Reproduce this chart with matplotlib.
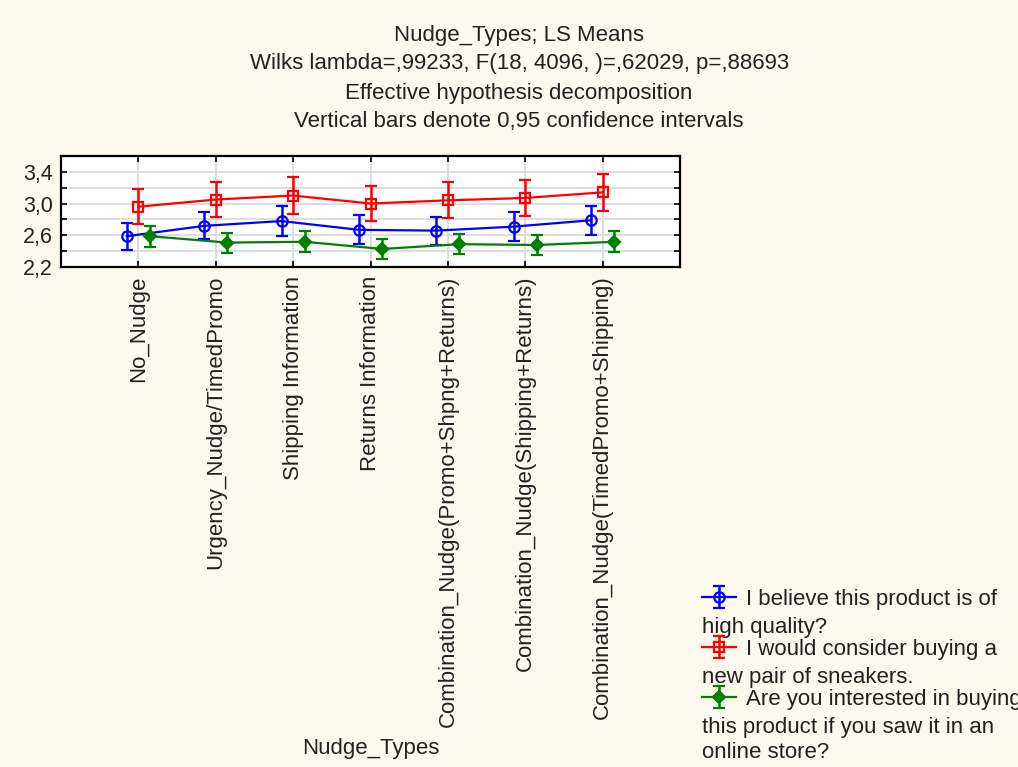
'''LS means per nudge type with 0.95 confidence intervals.'''

import matplotlib
matplotlib.use("Agg")
import matplotlib.pyplot as plt
import numpy as np

plt.rcParams['font.family'] = ['Liberation Sans', 'DejaVu Sans']

# Categories on the x axis
categories = [
    "No_Nudge",
    "Urgency_Nudge/TimedPromo",
    "Shipping Information",
    "Returns Information",
    "Combination_Nudge(Promo+Shpng+Returns)",
    "Combination_Nudge(Shipping+Returns)",
    "Combination_Nudge(TimedPromo+Shipping)",
]

# LS means and half-width of the 0.95 confidence intervals
quality_mean = [2.59, 2.72, 2.78, 2.67, 2.66, 2.71, 2.79]
quality_ci = [0.17, 0.17, 0.185, 0.18, 0.175, 0.18, 0.18]

sneakers_mean = [2.96, 3.05, 3.10, 3.00, 3.04, 3.07, 3.14]
sneakers_ci = [0.22, 0.225, 0.23, 0.225, 0.225, 0.23, 0.23]

store_mean = [2.59, 2.51, 2.52, 2.43, 2.49, 2.48, 2.52]
store_ci = [0.13, 0.125, 0.13, 0.13, 0.127, 0.128, 0.13]

y_ticks = [2.2, 2.4, 2.6, 2.8, 3.0, 3.2, 3.4, 3.6]

title_lines = [
    "Nudge_Types; LS Means",
    "Wilks lambda=,99233, F(18, 4096, )=,62029, p=,88693",
    "Effective hypothesis decomposition",
    "Vertical bars denote 0,95 confidence intervals",
]

legend_lines = [
    ("I believe this product is of", ["high quality?"]),
    ("I would consider buying a", ["new pair of sneakers."]),
    ("Are you interested in buying", ["this product if you saw it in an", "online store?"]),
]

BG = "#fdf9ee"
TXT = "#222222"
x = np.arange(len(categories))

fig = plt.figure(figsize=(10.18, 7.67), dpi=100, facecolor=BG)
ax = fig.add_axes([0.0599, 0.6515, 0.6081, 0.1455])
ax.set_facecolor("white")

series = [
    (quality_mean, quality_ci, -0.15, "blue", "o", "none"),
    (sneakers_mean, sneakers_ci, 0.0, "red", "s", "none"),
    (store_mean, store_ci, 0.15, "green", "D", "green"),
]

handles = []
for mean, ci, shift, color, marker, face in series:
    eb = ax.errorbar(x + shift, mean, yerr=ci, color=color, marker=marker,
                     markerfacecolor=face, markeredgecolor=color,
                     markersize=7.5 if marker != "D" else 6, markeredgewidth=1.6,
                     linewidth=1.6, elinewidth=1.8, capsize=4, capthick=1.8)
    handles.append(eb)

ax.set_xlim(-1, len(categories))
ax.set_ylim(2.2, 3.6)
ax.set_xticks(x)
ax.set_xticklabels(categories, rotation=90, fontsize=16, color=TXT)
ax.set_yticks(y_ticks)
ax.set_yticklabels([f"{t:.1f}".replace(".", ",") if i % 2 == 0 else ""
                    for i, t in enumerate(y_ticks)], fontsize=15.5, color=TXT)
ax.tick_params(direction="in", top=True, right=True, length=4, width=1.2, pad=6)
ax.grid(True, color="#d8d8d8", linewidth=1.2)
ax.set_axisbelow(True)
for sp in ax.spines.values():
    sp.set_linewidth(1.6)
    sp.set_color("black")

ax.set_xlabel("Nudge_Types", fontsize=16, color=TXT)
ax.xaxis.set_label_coords(0.5, -4.22)

# Title block
for i, line in enumerate(title_lines):
    fig.text(0.51, 1 - (35 + i * 29) / 767, line, ha="center", va="center",
             fontsize=16, color=TXT)

# Legend: handles with first line, wrapped lines placed below
leg = fig.legend(handles, [first for first, _ in legend_lines],
                 loc="upper left", bbox_to_anchor=(0.690, 1 - 589 / 767),
                 frameon=False, fontsize=16, handlelength=1.5,
                 handletextpad=0.45, labelspacing=1.3, borderpad=0,
                 borderaxespad=0, labelcolor=TXT)

wrapped_y = [[627], [677], [727, 752]]
for (_, rest), ys in zip(legend_lines, wrapped_y):
    for line, yy in zip(rest, ys):
        fig.text(702 / 1018, 1 - yy / 767, line, ha="left", va="center",
                 fontsize=16, color=TXT)

fig.savefig("out.png", dpi=100, facecolor=BG)
